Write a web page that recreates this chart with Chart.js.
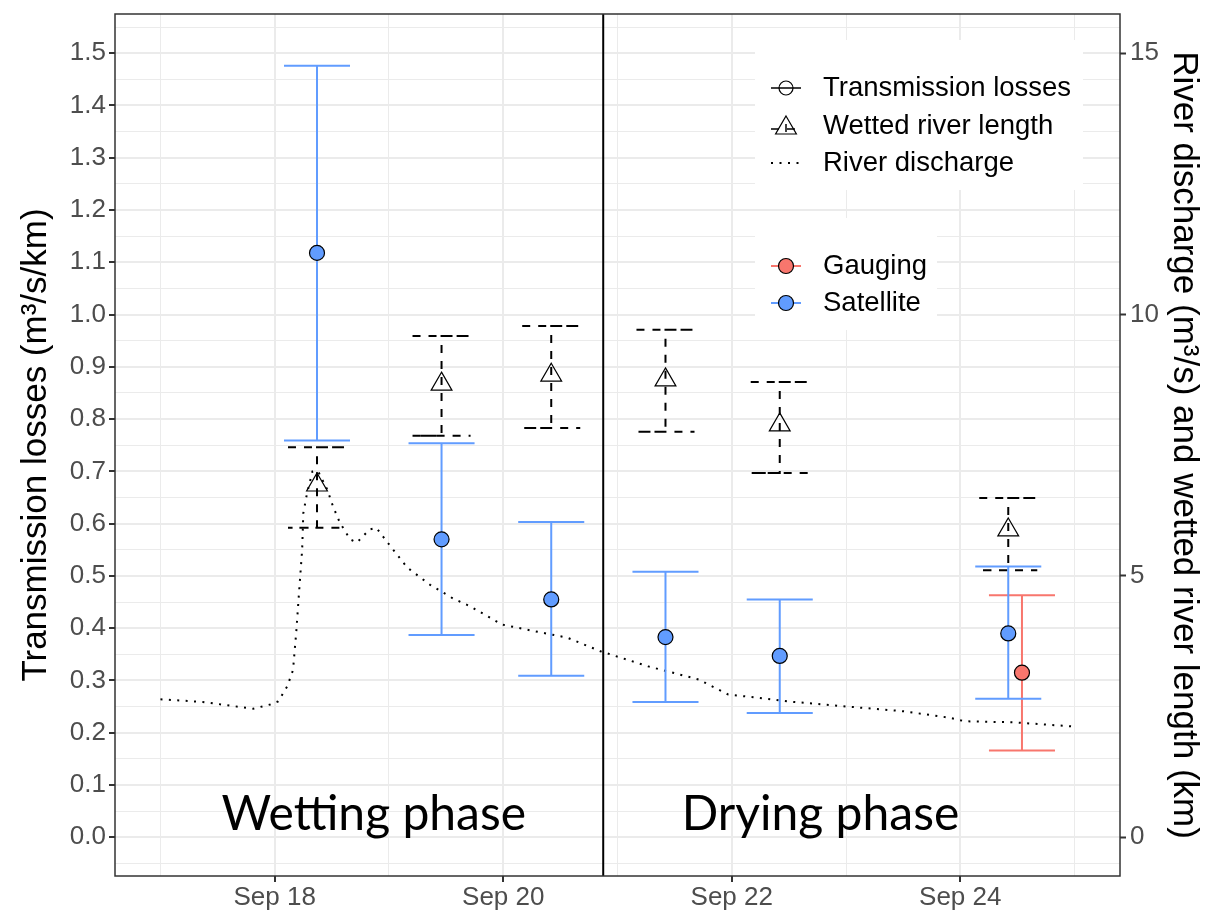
<!DOCTYPE html>
<html>
<head>
<meta charset="utf-8">
<title>Transmission losses</title>
<script src="https://cdn.jsdelivr.net/npm/chart.js@4.4.1/dist/chart.umd.min.js"></script>
<style>
  html, body { margin: 0; padding: 0; background: #fff; }
  #wrap { width: 1212px; height: 915px; }
</style>
</head>
<body>
<div id="wrap"><canvas id="lossChart" width="1212" height="915"></canvas></div>
<script>
// x values are days of September as decimals (18.5 = Sep 18, 12:00)
const obsDays = [18.37, 19.46, 20.42, 21.42, 22.42, 24.42];

// satellite transmission losses (m3/s/km) with error range
const satLoss = [1.118, 0.570, 0.455, 0.383, 0.347, 0.390];
const satLow  = [0.759, 0.387, 0.309, 0.259, 0.238, 0.265];
const satHigh = [1.476, 0.754, 0.603, 0.508, 0.455, 0.518];

// gauging
const gaugeDays = [24.54];
const gaugeLoss = [0.315];
const gaugeLow  = [0.166];
const gaugeHigh = [0.463];

// wetted river length (km), right axis
const wetLen  = [6.74, 8.67, 8.84, 8.75, 7.89, 5.88];
const wetLow  = [5.92, 7.68, 7.83, 7.76, 6.97, 5.11];
const wetHigh = [7.46, 9.59, 9.78, 9.71, 8.71, 6.49];

// river discharge (m3/s), right axis
const dischargeDays = [17.0, 17.37, 17.81, 17.96, 18.03, 18.11, 18.16, 18.19, 18.21, 18.24, 18.25, 18.28,
  18.33, 18.38, 18.46, 18.51, 18.57, 18.66, 18.72, 18.83, 18.89, 18.98, 19.16, 19.36, 19.56, 19.71,
  19.99, 20.28, 20.56, 20.85, 21.27, 21.71, 21.97, 22.19, 22.49, 23.02, 23.51, 23.90, 24.04, 24.47, 24.99];
const discharge = [2.64, 2.59, 2.46, 2.54, 2.60, 2.89, 3.20, 3.97, 4.60, 5.50, 6.20, 6.55,
  7.00, 7.00, 6.65, 6.33, 6.02, 5.70, 5.64, 5.89, 5.92, 5.66, 5.16, 4.83, 4.57, 4.42,
  4.07, 3.94, 3.82, 3.56, 3.27, 3.02, 2.73, 2.68, 2.60, 2.50, 2.41, 2.29, 2.22, 2.20, 2.12];

const phaseSplit = 20.875;
const phaseNames = ['Wetting phase', 'Drying phase'];
const phaseX = [18.867, 22.777];
const phaseY = 0.014;

const keysTop = ['Transmission losses', 'Wetted river length', 'River discharge'];
const keysSource = ['Gauging', 'Satellite'];

const BLUE = '#619CFF';
const RED = '#F8766D';
const FONT = '"Liberation Sans", Arial, sans-serif';

const toXY = (xs, ys) => xs.map((x, i) => ({ x: x, y: ys[i] }));

// error bars, drawn just before the points of their dataset
const errorBars = {
  id: 'errorBars',
  beforeDatasetDraw(chart, args) {
    const ds = chart.data.datasets[args.index];
    if (!ds.errLow) return;
    const ctx = chart.ctx;
    const xs = chart.scales.x;
    const ys = chart.scales[ds.yAxisID];
    ctx.save();
    ctx.strokeStyle = ds.errColor;
    ctx.lineWidth = 2;
    ctx.setLineDash(ds.errDash || []);
    ds.data.forEach((p, i) => {
      const px = xs.getPixelForValue(p.x);
      const x0 = xs.getPixelForValue(p.x - ds.capWidth / 2);
      const x1 = xs.getPixelForValue(p.x + ds.capWidth / 2);
      const hi = ys.getPixelForValue(ds.errHigh[i]);
      const lo = ys.getPixelForValue(ds.errLow[i]);
      ctx.beginPath();
      ctx.moveTo(x0, hi);
      ctx.lineTo(x1, hi);
      ctx.lineTo(px, hi);
      ctx.lineTo(px, lo);
      ctx.lineTo(x0, lo);
      ctx.lineTo(x1, lo);
      ctx.stroke();
    });
    ctx.restore();
  }
};

// phase separator + labels
const phases = {
  id: 'phases',
  beforeDatasetsDraw(chart) {
    const ctx = chart.ctx;
    const a = chart.chartArea;
    const xs = chart.scales.x, ys = chart.scales.y;
    ctx.save();
    ctx.strokeStyle = '#000';
    ctx.lineWidth = 2;
    const px = xs.getPixelForValue(phaseSplit);
    ctx.beginPath();
    ctx.moveTo(px, a.top);
    ctx.lineTo(px, a.bottom);
    ctx.stroke();
    ctx.fillStyle = '#000';
    ctx.font = '48px Lato, "Open Sans", sans-serif';
    ctx.textAlign = 'center';
    ctx.textBaseline = 'alphabetic';
    phaseNames.forEach((t, i) => {
      ctx.fillText(t, xs.getPixelForValue(phaseX[i]), ys.getPixelForValue(phaseY));
    });
    ctx.restore();
  }
};

function circle(ctx, x, y, r, fill) {
  ctx.beginPath();
  ctx.arc(x, y, r, 0, Math.PI * 2);
  if (fill) { ctx.fillStyle = fill; ctx.fill(); }
  ctx.strokeStyle = '#000';
  ctx.lineWidth = 1.2;
  ctx.stroke();
}

// the two legend boxes
const keyBoxes = {
  id: 'keyBoxes',
  afterDatasetsDraw(chart) {
    const ctx = chart.ctx;
    const kx0 = 771, kx1 = 801, kc = 786, tx = 823;
    const rowsTop = [88, 126, 163];
    const rowsSrc = [266, 303];
    ctx.save();
    ctx.fillStyle = '#fff';
    ctx.fillRect(755, 40, 328, 150);
    ctx.fillRect(755, 218, 182, 112);

    // transmission losses
    ctx.strokeStyle = '#000';
    ctx.lineWidth = 1.5;
    ctx.beginPath(); ctx.moveTo(kx0, rowsTop[0]); ctx.lineTo(kx1, rowsTop[0]); ctx.stroke();
    circle(ctx, kc, rowsTop[0], 7, null);

    // wetted river length
    ctx.lineWidth = 1.5;
    ctx.setLineDash([8, 8]);
    ctx.beginPath(); ctx.moveTo(kx0, rowsTop[1] + 3); ctx.lineTo(kx1, rowsTop[1] + 3); ctx.stroke();
    ctx.beginPath(); ctx.moveTo(kc, rowsTop[1] - 2); ctx.lineTo(kc, rowsTop[1] + 8); ctx.stroke();
    ctx.setLineDash([]);
    ctx.lineWidth = 1.2;
    ctx.beginPath();
    ctx.moveTo(kc, rowsTop[1] - 10);
    ctx.lineTo(kc + 10.4, rowsTop[1] + 8);
    ctx.lineTo(kc - 10.4, rowsTop[1] + 8);
    ctx.closePath();
    ctx.stroke();

    // river discharge
    ctx.lineWidth = 2;
    ctx.setLineDash([2, 6.5]);
    ctx.beginPath(); ctx.moveTo(kx0, rowsTop[2]); ctx.lineTo(kx1, rowsTop[2]); ctx.stroke();
    ctx.setLineDash([]);

    // gauging / satellite
    [RED, BLUE].forEach((c, i) => {
      ctx.strokeStyle = c;
      ctx.lineWidth = 2;
      ctx.beginPath(); ctx.moveTo(kx0, rowsSrc[i]); ctx.lineTo(kx1, rowsSrc[i]); ctx.stroke();
      circle(ctx, kc, rowsSrc[i], 7.5, c);
    });

    ctx.fillStyle = '#000';
    ctx.font = '27.5px ' + FONT;
    ctx.textBaseline = 'middle';
    keysTop.forEach((t, i) => ctx.fillText(t, tx, rowsTop[i]));
    keysSource.forEach((t, i) => ctx.fillText(t, tx, rowsSrc[i]));
    ctx.restore();
  }
};

const frame = {
  id: 'frame',
  afterDraw(chart) {
    const a = chart.chartArea;
    const ctx = chart.ctx;
    ctx.save();
    ctx.strokeStyle = '#333333';
    ctx.lineWidth = 1.5;
    ctx.strokeRect(a.left, a.top, a.right - a.left, a.bottom - a.top);
    ctx.restore();
  }
};

const yMajor = (v) => Math.round(v * 100) % 10 === 0;
const xMajor = (v) => Math.round(v) % 2 === 0;
const tickVal = (c) => (c.tick ? c.tick.value : 0);

// fixed axis sizes so the plot panel sits where it does in the figure
const fixWidth = (w) => (s) => { s.width = w; s.paddingTop = 0; s.paddingBottom = 0; };
const fixHeight = (h) => (s) => { s.height = h; s.paddingLeft = 0; s.paddingRight = 0; };

new Chart(document.getElementById('lossChart'), {
  type: 'scatter',
  data: {
    datasets: [
      {
        label: 'Satellite',
        data: toXY(obsDays, satLoss),
        yAxisID: 'y',
        pointRadius: 7.5,
        pointBackgroundColor: BLUE,
        pointBorderColor: '#000',
        pointBorderWidth: 1.2,
        errLow: satLow, errHigh: satHigh, errColor: BLUE, capWidth: 0.578,
        order: 1
      },
      {
        label: 'Gauging',
        data: toXY(gaugeDays, gaugeLoss),
        yAxisID: 'y',
        pointRadius: 7.5,
        pointBackgroundColor: RED,
        pointBorderColor: '#000',
        pointBorderWidth: 1.2,
        errLow: gaugeLow, errHigh: gaugeHigh, errColor: RED, capWidth: 0.578,
        order: 2
      },
      {
        label: 'Wetted river length',
        data: toXY(obsDays, wetLen),
        yAxisID: 'y2',
        pointStyle: 'triangle',
        pointRadius: 12,
        pointBackgroundColor: 'rgba(0,0,0,0)',
        pointBorderColor: '#000',
        pointBorderWidth: 1.2,
        errLow: wetLow, errHigh: wetHigh, errColor: '#000', errDash: [8, 8], capWidth: 0.508,
        order: 3
      },
      {
        label: 'River discharge',
        data: toXY(dischargeDays, discharge),
        yAxisID: 'y2',
        showLine: true,
        pointRadius: 0,
        borderColor: '#000',
        borderWidth: 2,
        borderDash: [2, 6.4],
        tension: 0,
        order: 4
      }
    ]
  },
  options: {
    responsive: false,
    animation: false,
    devicePixelRatio: 1,
    layout: { padding: { top: 14, left: 0, right: 0, bottom: 0 } },
    plugins: {
      legend: { display: false },
      tooltip: { enabled: false }
    },
    scales: {
      x: {
        type: 'linear',
        min: 16.602,
        max: 25.398,
        afterFit: fixHeight(39),
        border: { display: false },
        grid: {
          color: '#EBEBEB',
          lineWidth: (c) => (xMajor(tickVal(c)) ? 2 : 1),
          tickLength: 6,
          tickWidth: 2,
          tickColor: (c) => (xMajor(tickVal(c)) ? '#333333' : 'rgba(0,0,0,0)')
        },
        ticks: {
          stepSize: 1,
          includeBounds: false,
          autoSkip: false,
          maxRotation: 0,
          padding: 0,
          color: '#4D4D4D',
          font: { family: FONT, size: 26 },
          callback: (v) => (xMajor(v) ? 'Sep ' + Math.round(v) : '')
        }
      },
      y: {
        position: 'left',
        min: -0.074,
        max: 1.575,
        afterFit: fixWidth(115),
        border: { display: false },
        grid: {
          color: '#EBEBEB',
          lineWidth: (c) => (yMajor(tickVal(c)) ? 2 : 1),
          tickLength: 6,
          tickWidth: 2,
          tickColor: (c) => (yMajor(tickVal(c)) ? '#333333' : 'rgba(0,0,0,0)')
        },
        ticks: {
          stepSize: 0.05,
          includeBounds: false,
          autoSkip: false,
          padding: 3,
          color: '#4D4D4D',
          font: { family: FONT, size: 26 },
          callback: (v) => (yMajor(v) ? v.toFixed(1) : '')
        },
        title: {
          display: true,
          text: 'Transmission losses (m³/s/km)',
          color: '#000',
          font: { family: FONT, size: 35 },
          padding: { top: 15, bottom: 0 }
        }
      },
      y2: {
        position: 'right',
        min: -0.74,
        max: 15.75,
        afterFit: fixWidth(92),
        border: { display: false },
        grid: {
          drawOnChartArea: false,
          tickLength: 6,
          tickWidth: 2,
          tickColor: '#333333'
        },
        ticks: {
          stepSize: 5,
          includeBounds: false,
          autoSkip: false,
          padding: 4,
          color: '#4D4D4D',
          font: { family: FONT, size: 26 },
          callback: (v) => String(Math.round(v))
        },
        title: {
          display: true,
          text: 'River discharge (m³/s) and wetted river length (km)',
          color: '#000',
          font: { family: FONT, size: 35 },
          padding: { top: 7, bottom: 0 }
        }
      }
    }
  },
  plugins: [phases, errorBars, keyBoxes, frame]
});
</script>
</body>
</html>
